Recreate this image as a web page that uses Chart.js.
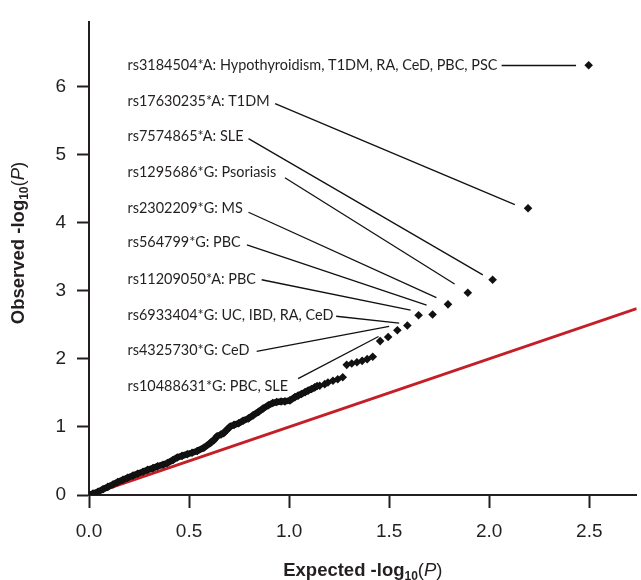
<!DOCTYPE html>
<html><head><meta charset="utf-8">
<script src="https://cdn.jsdelivr.net/npm/chart.js@4"></script>
<style>html,body{margin:0;padding:0;background:#fff}#wrap{width:641px;height:580px}</style>
</head><body><div id="wrap"><canvas id="c" width="641" height="580"></canvas></div>
<script>
// ---------- data ----------
const xTicks = [0, 0.5, 1, 1.5, 2, 2.5];
const yTicks = [0, 1, 2, 3, 4, 5, 6];
const xMax = 2.737;
const yMax = 6.94;

// dense part of the Q-Q curve (expected, observed)
const curveX = [0, 0.02, 0.045, 0.07, 0.094, 0.12, 0.144, 0.17, 0.193, 0.22, 0.243, 0.27, 0.293, 0.32, 0.342, 0.37, 0.392, 0.42, 0.441, 0.465, 0.491, 0.515, 0.541, 0.574, 0.607, 0.625, 0.64, 0.66, 0.673, 0.69, 0.706, 0.725, 0.748, 0.77, 0.797, 0.82, 0.847, 0.87, 0.896, 0.918, 0.938, 0.96, 0.979, 1.004, 1.029, 1.045, 1.062, 1.08, 1.095, 1.112, 1.128, 1.14];
const curveY = [0, 0.02, 0.047, 0.085, 0.119, 0.155, 0.191, 0.225, 0.254, 0.285, 0.312, 0.342, 0.369, 0.395, 0.42, 0.445, 0.47, 0.515, 0.55, 0.575, 0.599, 0.62, 0.647, 0.694, 0.766, 0.81, 0.862, 0.89, 0.909, 0.96, 1.006, 1.03, 1.053, 1.09, 1.125, 1.17, 1.221, 1.27, 1.318, 1.35, 1.365, 1.372, 1.375, 1.389, 1.437, 1.46, 1.484, 1.51, 1.533, 1.556, 1.58, 1.6];

// separated points of the tail
const tailX = [1.153, 1.178, 1.194, 1.219, 1.243, 1.268, 1.288, 1.313, 1.339, 1.365, 1.39, 1.418];
const tailY = [1.605, 1.628, 1.652, 1.677, 1.7, 1.73, 1.911, 1.93, 1.95, 1.97, 1.995, 2.03];

// top SNPs
const hitX = [1.455, 1.495, 1.541, 1.591, 1.647, 1.717, 1.794, 1.893, 2.017, 2.194, 2.497];
const hitY = [2.26, 2.32, 2.42, 2.49, 2.64, 2.65, 2.8, 2.97, 3.16, 4.21, 6.31];

// null line (expected = observed)
const nullX = [0, xMax];
const nullY = [0, xMax];

const snpLabels = [
  "rs3184504*A: Hypothyroidism, T1DM, RA, CeD, PBC, PSC",
  "rs17630235*A: T1DM",
  "rs7574865*A: SLE",
  "rs1295686*G: Psoriasis",
  "rs2302209*G: MS",
  "rs564799*G: PBC",
  "rs11209050*A: PBC",
  "rs6933404*G: UC, IBD, RA, CeD",
  "rs4325730*G: CeD",
  "rs10488631*G: PBC, SLE"
];

// ---------- annotation layout (data units) ----------
const labelLayout = {
  x: 0.192,
  rows: [6.307, 5.783, 5.266, 4.741, 4.217, 3.707, 3.175, 2.636, 2.119, 1.595],
  start: [[2.062, 6.307], [0.930, 5.747], [0.797, 5.234], [0.979, 4.659], [0.797, 4.152], [0.789, 3.674], [0.863, 3.161], [1.235, 2.625], [0.838, 2.108], [1.045, 1.710]],
  end: [[2.434, 6.307], [2.128, 4.263], [1.968, 3.233], [1.827, 3.099], [1.736, 2.898], [1.687, 2.787], [1.607, 2.716], [1.550, 2.524], [1.500, 2.476], [1.447, 2.328]]
};

const ink = '#231f20';
const toPts = (xs, ys) => xs.map((v, i) => ({x: v, y: ys[i]}));

const labelSize = 14.6;
function labelScale(ctx) {
  ctx.font = labelSize + 'px Lato';
  return 370 / ctx.measureText(snpLabels[0]).width;
}

function drawRich(ctx, parts, cx, baseline) {
  let total = 0;
  parts.forEach(p => { ctx.font = p.f; p.w = ctx.measureText(p.t).width; total += p.w; });
  let xx = cx - total / 2;
  ctx.textBaseline = 'alphabetic';
  ctx.textAlign = 'left';
  parts.forEach(p => { ctx.font = p.f; ctx.fillText(p.t, xx, baseline + (p.dy || 0)); xx += p.w; });
}

function titleParts(word) {
  return [
    {t: word + ' -log', f: 'bold 18.5px "Liberation Sans"'},
    {t: '10', f: 'bold 12px "Liberation Sans"', dy: 4},
    {t: '(', f: '18.5px "Liberation Sans"'},
    {t: 'P', f: 'italic 18.5px "Liberation Sans"'},
    {t: ')', f: '18.5px "Liberation Sans"'}
  ];
}

const annot = {
  id: 'annot',
  afterDatasetsDraw(chart) {
    const {ctx, scales: {x, y}} = chart;
    ctx.save();
    ctx.fillStyle = ink;
    const sx = labelScale(ctx);
    ctx.font = labelSize + 'px Lato';
    ctx.textBaseline = 'middle';
    ctx.textAlign = 'left';
    snpLabels.forEach((t, i) => {
      ctx.save();
      ctx.translate(x.getPixelForValue(labelLayout.x), y.getPixelForValue(labelLayout.rows[i]));
      ctx.scale(sx, 1);
      ctx.fillText(t, 0, 0);
      ctx.restore();
    });
    ctx.strokeStyle = '#111';
    ctx.lineWidth = 1.3;
    labelLayout.start.forEach((s, i) => {
      const e = labelLayout.end[i];
      ctx.beginPath();
      ctx.moveTo(x.getPixelForValue(s[0]), y.getPixelForValue(s[1]));
      ctx.lineTo(x.getPixelForValue(e[0]), y.getPixelForValue(e[1]));
      ctx.stroke();
    });
    ctx.restore();
  },
  afterDraw(chart) {
    const {ctx, chartArea} = chart;
    ctx.save();
    ctx.fillStyle = ink;
    drawRich(ctx, titleParts('Expected'), (chartArea.left + chartArea.right) / 2, 576);
    ctx.translate(24, 243);
    ctx.rotate(-Math.PI / 2);
    drawRich(ctx, titleParts('Observed'), 0, 0);
    ctx.restore();
  }
};

const pointStyleOpts = {pointStyle: 'rectRot', pointRadius: 4.3, pointBackgroundColor: '#111', pointBorderColor: '#111', pointBorderWidth: 0};

new Chart(document.getElementById('c'), {
  type: 'scatter',
  data: {
    datasets: [
      Object.assign({label: 'curve', data: toPts(curveX, curveY), showLine: true, borderColor: '#111', borderWidth: 6.5, order: 1}, pointStyleOpts),
      Object.assign({label: 'tail', data: toPts(tailX, tailY), showLine: false, order: 1}, pointStyleOpts),
      Object.assign({label: 'hits', data: toPts(hitX, hitY), showLine: false, order: 1}, pointStyleOpts),
      {label: 'null', data: toPts(nullX, nullY), showLine: true, borderColor: '#c41e26', borderWidth: 3, pointRadius: 0, order: 5}
    ]
  },
  options: {
    responsive: false,
    animation: false,
    layout: {padding: {top: 12, right: 0, left: 0, bottom: 0}},
    plugins: {legend: {display: false}, tooltip: {enabled: false}},
    scales: {
      x: {
        type: 'linear', min: 0, max: xMax,
        afterBuildTicks: s => { s.ticks = xTicks.map(v => ({value: v})); },
        afterFit: s => { s.height = 85; },
        grid: {drawOnChartArea: false, drawTicks: true, tickLength: 13, tickWidth: 2, tickColor: ink},
        border: {display: true, color: ink, width: 2},
        ticks: {font: {family: 'Liberation Sans', size: 19}, color: ink, padding: 12, maxRotation: 0, autoSkip: false, callback: v => Number(v).toFixed(1)}
      },
      y: {
        type: 'linear', min: 0, max: yMax,
        afterBuildTicks: s => { s.ticks = yTicks.map(v => ({value: v})); },
        afterFit: s => { s.width = 89; },
        grid: {drawOnChartArea: false, drawTicks: true, tickLength: 12, tickWidth: 2, tickColor: ink},
        border: {display: true, color: ink, width: 2},
        ticks: {font: {family: 'Liberation Sans', size: 19}, color: ink, padding: 11, autoSkip: false, callback: v => String(v)}
      }
    }
  },
  plugins: [annot]
});
</script></body></html>
